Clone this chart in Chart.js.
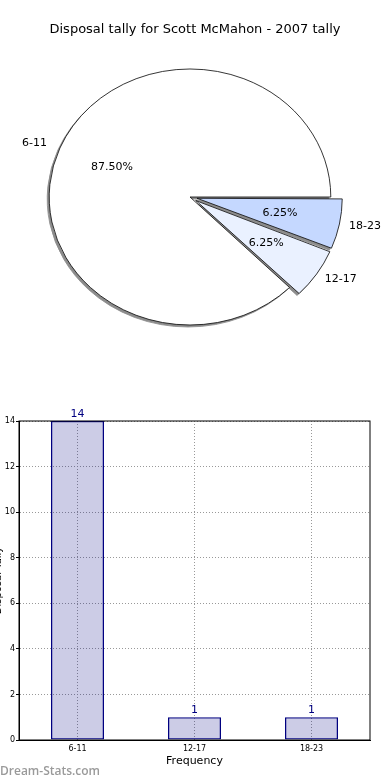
<!DOCTYPE html>
<html lang="en">

<head>
    <meta charset="UTF-8">
    <title>Disposal tally</title>
    <style>
        body {
            margin: 0;
            padding: 0;
            background-color: #fff;
            font-family: "DejaVu Sans", sans-serif;
            position: relative;
            width: 390px;
            height: 780px;
            overflow: hidden;
        }

        canvas {
            display: block;
        }

        #mark {
            position: absolute;
            left: 0;
            top: 762px;
            font-family: "Open Sans", sans-serif;
            font-weight: 600;
            font-size: 12px;
            color: #9a9a9a;
        }
    </style>
</head>

<body>
    <canvas id="pieChart" width="390" height="380"></canvas>
    <canvas id="barChart" width="390" height="400"></canvas>
    <div id="mark">Dream-Stats.com</div>

    <script src="https://cdn.jsdelivr.net/npm/chart.js"></script>

    <script>
        var categories = ['6-11', '12-17', '18-23'];
        var tally = [14, 1, 1];
        var sliceColors = ['#ffffff', '#eaf1ff', '#c5d8ff'];
        var explode = [0, 26, 26];
        var yTicks = { min: 0, max: 14, step: 2 };

        Chart.defaults.font.family = '"DejaVu Sans", sans-serif';
        Chart.defaults.color = '#000';

        var SX = 1.1;      // matplotlib axes were not square, so the pie is an ellipse
        var SHIFT = -5;    // pie sits a little left of the title centre

        // matplotlib draws counter-clockwise from 3 o'clock, Chart.js clockwise,
        // so put the slices in the order they appear going clockwise
        var pieOrder = [0, 2, 1];
        var total = tally.reduce((a, b) => a + b, 0);

        function squash(ctx, a) {
            ctx.translate(a.x + SHIFT, a.y);
            ctx.scale(SX, 1);
            ctx.translate(-a.x, -a.y);
        }

        var ellipsePlugin = {
            id: 'ellipse',
            beforeDatasetsDraw(chart) {
                var ctx = chart.ctx;
                var arcs = chart.getDatasetMeta(0).data;
                // shadow pass
                ctx.save();
                ctx.translate(-2, 2);
                ctx.filter = 'brightness(0) invert(0.55)';
                squash(ctx, arcs[0]);
                arcs.forEach(a => a.draw(ctx));
                ctx.restore();
                // the real slices get drawn squashed too
                ctx.save();
                squash(ctx, arcs[0]);
            },
            afterDatasetsDraw(chart) {
                chart.ctx.restore();
            },
            afterDraw(chart) {
                var ctx = chart.ctx;
                var arcs = chart.getDatasetMeta(0).data;
                ctx.save();
                ctx.font = '11px "DejaVu Sans"';
                ctx.fillStyle = '#000';
                ctx.textBaseline = 'middle';
                arcs.forEach((a, k) => {
                    var i = pieOrder[k];
                    var mid = (a.startAngle + a.endAngle) / 2;
                    var t = explode[i] / 4;
                    var R = a.outerRadius;
                    var c = Math.cos(mid), s = Math.sin(mid);
                    var cx = a.x + SHIFT;
                    ctx.textAlign = c > 0 ? 'left' : 'right';
                    ctx.fillText(categories[i], cx + SX * (t + 1.1 * R) * c, a.y + (t + 1.1 * R) * s);
                    ctx.textAlign = 'center';
                    var pct = (tally[i] / total * 100).toFixed(2) + '%';
                    ctx.fillText(pct, cx + SX * (t + 0.6 * R) * c, a.y + (t + 0.6 * R) * s);
                });
                ctx.restore();
            }
        };

        new Chart(document.getElementById('pieChart'), {
            type: 'pie',
            data: {
                labels: pieOrder.map(i => categories[i]),
                datasets: [{
                    data: pieOrder.map(i => tally[i]),
                    backgroundColor: pieOrder.map(i => sliceColors[i]),
                    offset: pieOrder.map(i => explode[i]),
                    borderColor: '#111',
                    borderWidth: 0.8,
                    hoverOffset: 0
                }]
            },
            options: {
                responsive: false,
                animation: false,
                rotation: 135,
                radius: 128,
                layout: { padding: { left: 0, right: 0, top: 0, bottom: 33.6 } },
                plugins: {
                    legend: { display: false },
                    tooltip: { enabled: false },
                    title: {
                        display: true,
                        text: 'Disposal tally for Scott McMahon - 2007 tally',
                        color: '#000',
                        font: { size: 13, weight: 'normal' },
                        padding: { top: 22, bottom: 10 }
                    }
                }
            },
            plugins: [ellipsePlugin]
        });

        var barExtras = {
            id: 'barExtras',
            afterDatasetsDraw(chart) {
                var ctx = chart.ctx;
                var area = chart.chartArea;
                ctx.save();
                // frame round the axes
                ctx.strokeStyle = '#000';
                ctx.lineWidth = 1;
                ctx.strokeRect(area.left, area.top, area.right - area.left, area.bottom - area.top);
                // value on top of each bar
                ctx.font = '11px "DejaVu Sans"';
                ctx.fillStyle = '#000080';
                ctx.textAlign = 'center';
                ctx.textBaseline = 'alphabetic';
                chart.getDatasetMeta(0).data.forEach((b, i) => {
                    ctx.fillText(tally[i], b.x, b.y - 4);
                });
                // y title, mostly cut off at the left edge
                ctx.translate(-2, (area.top + area.bottom) / 2);
                ctx.rotate(-Math.PI / 2);
                ctx.fillStyle = '#000';
                ctx.font = '10px "DejaVu Sans"';
                ctx.textBaseline = 'middle';
                ctx.fillText('Disposal Tally', 0, 0);
                ctx.restore();
            }
        };

        new Chart(document.getElementById('barChart'), {
            type: 'bar',
            data: {
                labels: categories,
                datasets: [{
                    data: tally,
                    backgroundColor: 'rgba(0, 0, 128, 0.2)',
                    borderColor: '#000080',
                    borderWidth: 1.3,
                    borderSkipped: false,
                    categoryPercentage: 1,
                    barPercentage: 0.453
                }]
            },
            options: {
                responsive: false,
                animation: false,
                layout: { padding: { left: 0, right: 20, top: 41, bottom: 0 } },
                plugins: {
                    legend: { display: false },
                    tooltip: { enabled: false }
                },
                scales: {
                    x: {
                        grid: { offset: false, color: '#999', lineWidth: 1, drawTicks: false },
                        border: { color: '#000', width: 1, dash: [1, 2] },
                        ticks: { font: { size: 8 }, color: '#000', padding: 4 },
                        title: {
                            display: true,
                            text: 'Frequency',
                            color: '#000',
                            font: { size: 11 },
                            padding: { top: 0, bottom: 12 }
                        },
                        afterFit(scale) { scale.height = 40; }
                    },
                    y: {
                        min: yTicks.min,
                        max: yTicks.max,
                        grid: { color: '#999', lineWidth: 1, tickLength: 3, tickColor: '#000' },
                        border: { color: '#000', width: 1, dash: [1, 2] },
                        ticks: { stepSize: yTicks.step, font: { size: 8 }, color: '#000', padding: 1 },
                        afterFit(scale) { scale.width = 19; }
                    }
                }
            },
            plugins: [barExtras]
        });
    </script>

</body>

</html>
